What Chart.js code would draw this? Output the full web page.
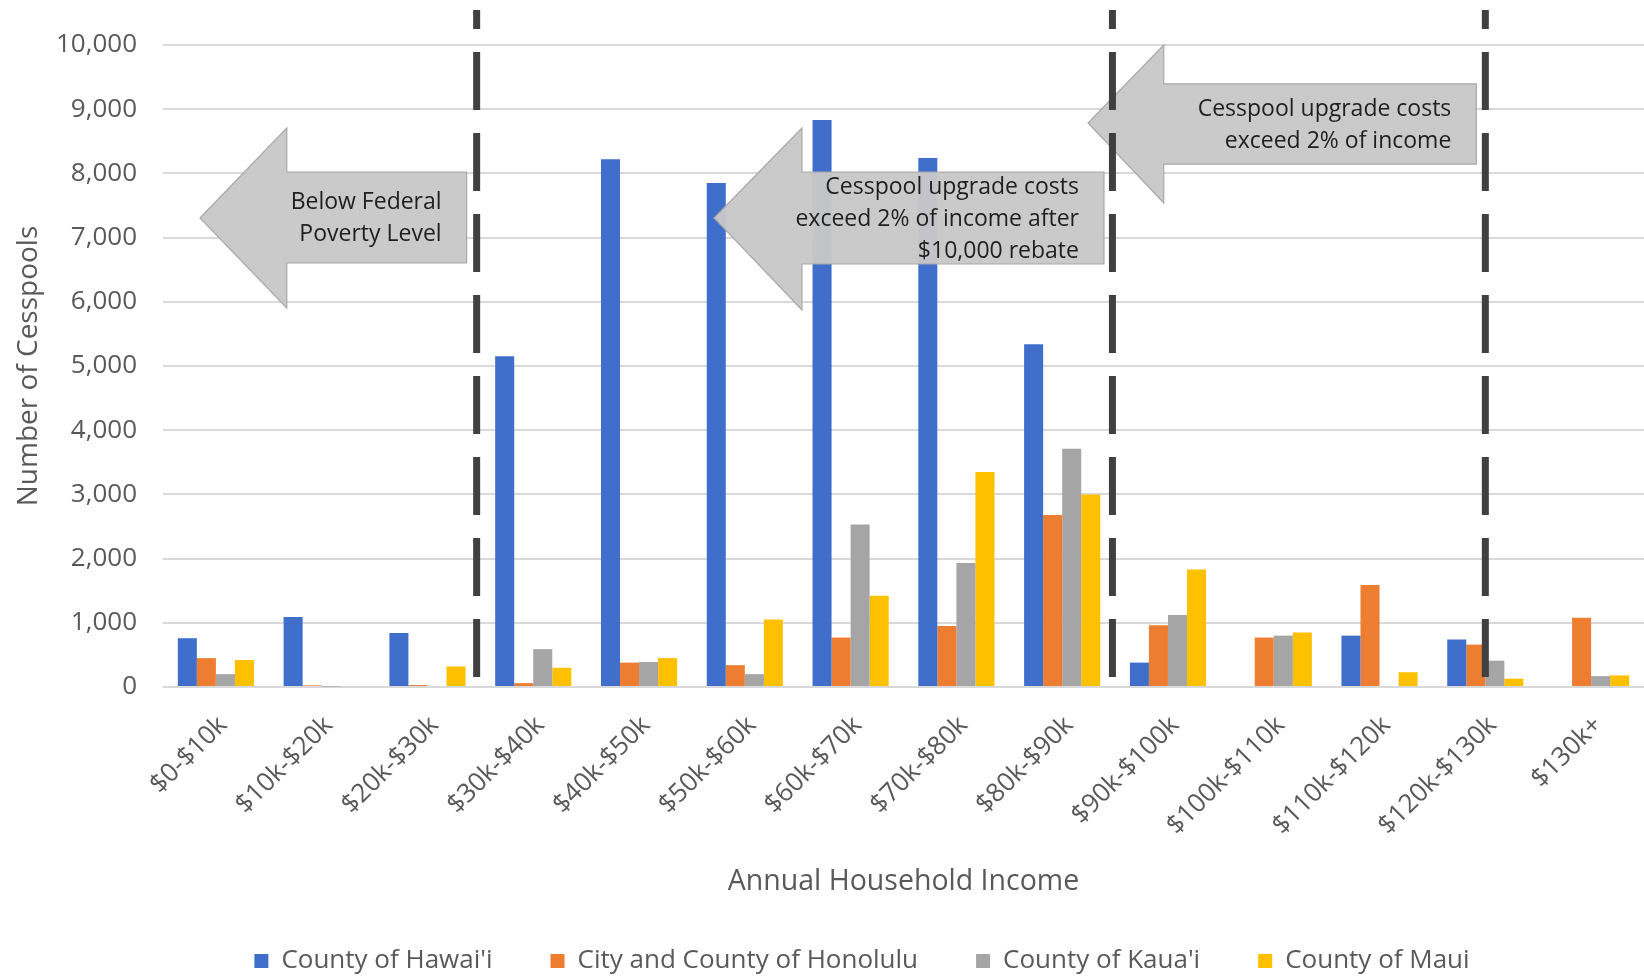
<!DOCTYPE html>
<html>
<head>
<meta charset="utf-8">
<title>Cesspools by Annual Household Income</title>
<script src="https://cdn.jsdelivr.net/npm/chart.js@4/dist/chart.umd.min.js"></script>
<style>
    html, body { margin: 0; padding: 0; background: #ffffff; }
    #wrap { width: 1644px; height: 976px; }
</style>
</head>
<body>
<div id="wrap"><canvas id="cesspoolChart"></canvas></div>
<script>
// Income brackets on the x axis
const incomeBrackets = ["$0-$10k", "$10k-$20k", "$20k-$30k", "$30k-$40k", "$40k-$50k", "$50k-$60k", "$60k-$70k",
    "$70k-$80k", "$80k-$90k", "$90k-$100k", "$100k-$110k", "$110k-$120k", "$120k-$130k", "$130k+"];

// Number of cesspools per county
const hawaiiCounts   = [760, 1090, 840, 5150, 8220, 7850, 8830, 8240, 5340, 380, 0, 800, 740, 0];
const honoluluCounts = [450, 25, 30, 60, 380, 340, 770, 950, 2680, 960, 770, 1590, 660, 1080];
const kauaiCounts    = [200, 5, 0, 590, 390, 200, 2530, 1930, 3710, 1120, 800, 0, 410, 170];
const mauiCounts     = [420, 0, 320, 300, 450, 1050, 1420, 3350, 3000, 1830, 850, 230, 130, 180];

const seriesNames = ["County of Hawai'i", "City and County of Honolulu", "County of Kaua'i", "County of Maui"];

// y axis ticks
const yTickMax = 10000;
const yTickStep = 1000;

// Dashed divider lines, in category units (index of bracket)
const dividerPositions = [2.465, 8.475, 12.0];

// Callout arrows, x in category units, y in cesspool counts
const arrowNotes = [
    { tipX: -0.15, headX: 0.67, rightX: 2.37, tipY: 7305, headTop: 8707, headBottom: 5903, shaftTop: 8022, shaftBottom: 6604,
      lines: ["Below Federal", "Poverty Level"] },
    { tipX: 4.71, headX: 5.54, rightX: 8.395, tipY: 7305, headTop: 8707, headBottom: 5872, shaftTop: 8022, shaftBottom: 6589,
      lines: ["Cesspool upgrade costs", "exceed 2% of income after", "$10,000 rebate"] },
    { tipX: 8.245, headX: 8.96, rightX: 11.915, tipY: 8785, headTop: 10000, headBottom: 7539, shaftTop: 9393, shaftBottom: 8146,
      lines: ["Cesspool upgrade costs", "exceed 2% of income"] }
];

const FONT = "'Open Sans', 'Noto Sans', sans-serif";
const TEXT_GREY = "#595959";

// Draw arrows first, then the dashed lines on top
const annotationPlugin = {
    id: "incomeAnnotations",
    afterLayout(chart) {
        // legend in the original sits a bit right of the canvas centre
        if (chart.legend) {
            chart.legend.left += 40;
            chart.legend.right += 40;
        }
    },
    afterDatasetsDraw(chart) {
        const ctx = chart.ctx;
        const xs = chart.scales.x;
        const ys = chart.scales.y;
        ctx.save();

        arrowNotes.forEach(a => {
            const tx = xs.getPixelForValue(a.tipX);
            const hx = xs.getPixelForValue(a.headX);
            const rx = xs.getPixelForValue(a.rightX);
            const ty = ys.getPixelForValue(a.tipY);
            const ht = ys.getPixelForValue(a.headTop);
            const hb = ys.getPixelForValue(a.headBottom);
            const st = ys.getPixelForValue(a.shaftTop);
            const sb = ys.getPixelForValue(a.shaftBottom);

            ctx.beginPath();
            ctx.moveTo(tx, ty);
            ctx.lineTo(hx, ht);
            ctx.lineTo(hx, st);
            ctx.lineTo(rx, st);
            ctx.lineTo(rx, sb);
            ctx.lineTo(hx, sb);
            ctx.lineTo(hx, hb);
            ctx.closePath();
            ctx.fillStyle = "rgba(200, 200, 200, 0.96)";
            ctx.fill();
            ctx.lineWidth = 1.2;
            ctx.strokeStyle = "#a8a8a8";
            ctx.stroke();

            ctx.fillStyle = "#1f1f1f";
            ctx.font = "23px " + FONT;
            ctx.textAlign = "right";
            ctx.textBaseline = "middle";
            const lineH = 32;
            const mid = (st + sb) / 2 + 1;
            const startY = mid - (a.lines.length - 1) * lineH / 2;
            a.lines.forEach((line, i) => {
                ctx.fillText(line, rx - 25, startY + i * lineH);
            });
        });

        const top = chart.chartArea.top - 35;
        const bottom = ys.getPixelForValue(0) - 4;
        ctx.lineWidth = 7;
        ctx.strokeStyle = "#404040";
        ctx.setLineDash([58, 23]);
        ctx.lineDashOffset = 39;
        dividerPositions.forEach(pos => {
            const px = xs.getPixelForValue(pos);
            ctx.beginPath();
            ctx.moveTo(px, top);
            ctx.lineTo(px, bottom);
            ctx.stroke();
        });
        ctx.restore();
    }
};

const ctx = document.getElementById("cesspoolChart").getContext("2d");

new Chart(ctx, {
    type: "bar",
    data: {
        labels: incomeBrackets,
        datasets: [
            { label: seriesNames[0], data: hawaiiCounts, backgroundColor: "#3f6fcb" },
            { label: seriesNames[1], data: honoluluCounts, backgroundColor: "#ed7d31" },
            { label: seriesNames[2], data: kauaiCounts, backgroundColor: "#a5a5a5" },
            { label: seriesNames[3], data: mauiCounts, backgroundColor: "#ffc000" }
        ]
    },
    options: {
        responsive: true,
        maintainAspectRatio: false,
        animation: false,
        devicePixelRatio: 1,
        layout: { padding: { top: 45, left: 0, right: 0, bottom: -8 } },
        datasets: {
            bar: { categoryPercentage: 0.72, barPercentage: 1.0, borderWidth: 0 }
        },
        plugins: {
            tooltip: { enabled: false },
            legend: {
                position: "bottom",
                labels: {
                    boxWidth: 14,
                    boxHeight: 14,
                    padding: 58,
                    color: TEXT_GREY,
                    font: { family: FONT, size: 26 }
                }
            }
        },
        scales: {
            x: {
                grid: { display: false },
                border: { display: false },
                ticks: {
                    color: TEXT_GREY,
                    font: { family: FONT, size: 26 },
                    minRotation: 45,
                    maxRotation: 45,
                    autoSkip: false,
                    padding: 15,
                    labelOffset: 7
                },
                title: {
                    display: true,
                    text: "Annual Household Income",
                    color: TEXT_GREY,
                    font: { family: FONT, size: 28.5 },
                    padding: { top: 0, bottom: -9 }
                },
                afterFit: scale => { scale.height = 203; }
            },
            y: {
                min: 0,
                max: yTickMax,
                grid: { color: "#d9d9d9", lineWidth: 2, drawTicks: false },
                border: { display: false },
                ticks: {
                    stepSize: yTickStep,
                    color: TEXT_GREY,
                    font: { family: FONT, size: 26 },
                    padding: 26,
                    callback: value => value.toLocaleString("en-US")
                },
                title: {
                    display: true,
                    text: "Number of Cesspools",
                    color: TEXT_GREY,
                    font: { family: FONT, size: 28 },
                    padding: { top: 12, bottom: 0 }
                },
                afterFit: scale => { scale.width = 163; }
            }
        }
    },
    plugins: [annotationPlugin]
});
</script>
</body>
</html>
